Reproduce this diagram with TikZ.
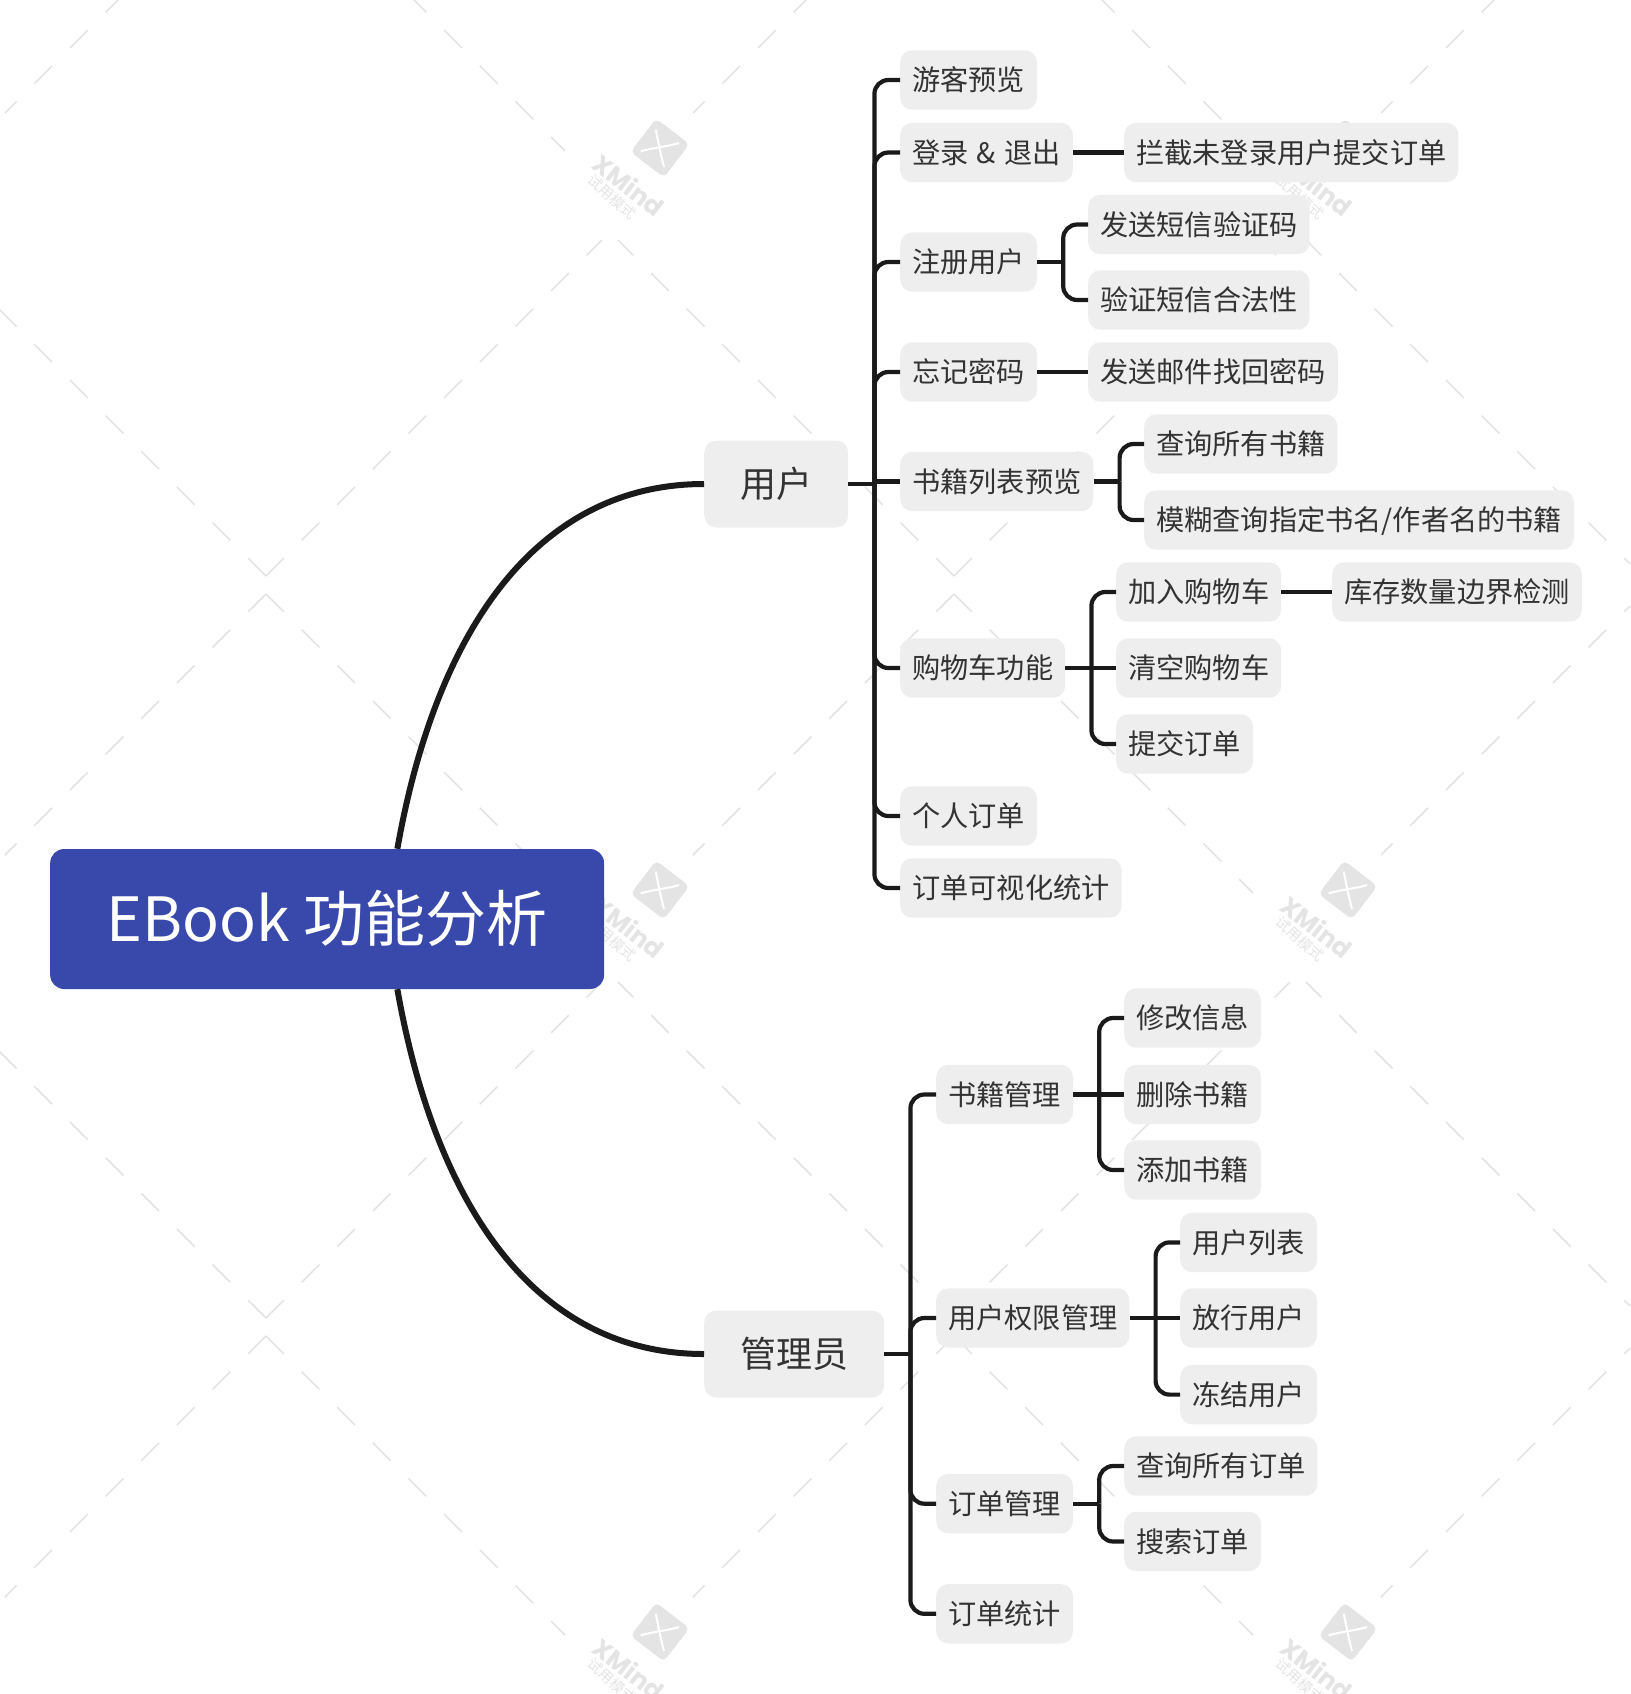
\documentclass[tikz,border=0pt]{standalone}
\usepackage{fontspec}
\setmainfont{Noto Sans CJK SC}
\newfontfamily\wmfont{Poppins}
\definecolor{linkcol}{HTML}{1A1A1A}
\definecolor{boxcol}{HTML}{EEEEEE}
\definecolor{rootcol}{HTML}{3949AB}
\definecolor{wmcol}{HTML}{E4E4E4}
\definecolor{textcol}{HTML}{333333}
\tikzset{
  topic/.style={anchor=west,fill=boxcol,text=textcol,rounded corners=12pt,inner xsep=12pt,inner ysep=15.7pt,
    font=\fontsize{28.2pt}{28.2pt}\selectfont,text height=24.6pt,text depth=3.4pt},
  maintopic/.style={topic,inner xsep=36pt,inner ysep=26pt,
    font=\fontsize{36pt}{36pt}\selectfont,text height=30.8pt,text depth=4.2pt},
  central/.style={anchor=west,fill=rootcol,text=white,rounded corners=14pt,inner xsep=56.3pt,inner ysep=40pt,
    font=\fontsize{61pt}{61pt}\selectfont,text height=52.8pt,text depth=7.2pt},
  link/.style={draw=linkcol,line width=4.2pt,rounded corners=14pt},
  mainlink/.style={draw=linkcol,line width=6pt},
  wmdash/.style={draw=wmcol,line width=1.5pt,dash pattern=on 25.2pt off 25.2pt}
}
\begin{document}
\begin{tikzpicture}[x=1pt,y=-1pt]
  \useasboundingbox (0,0) rectangle (1630,1694);
  % watermark
  \begin{scope}
    \clip (0,0) rectangle (1630,1694);
    \foreach \i in {0,1,2}
      \foreach \j in {-1,0,1,2} {
        \begin{scope}[shift={(688*\i,742*\j)}]
          \draw[wmdash] (266,576) -- ++(-336,-336);
          \draw[wmdash] (266,576) -- ++(336,-336);
          \draw[wmdash] (266,594) -- ++(-261,261);
          \draw[wmdash] (266,594) -- ++(299,299);
          \fill[wmcol,rotate around={-37.6:(660,148)},rounded corners=5pt]
            (639,127) rectangle (681,169);
          \draw[white,line width=2pt] (640.7,151.3) .. controls (656,147) and (666,147) .. (679,143);
          \draw[white,line width=2pt] (655.7,129.7) .. controls (659,145) and (660,152) .. (664,167);
          \node[rotate=-38,text=wmcol,font=\wmfont\bfseries\fontsize{25pt}{25pt}\selectfont] (wmname\i\j) at (629,185) {XMind};
          \node[rotate=-42,text=wmcol,font=\fontsize{14.5pt}{14.5pt}\selectfont] (wmtrial\i\j) at (612,197) {试用模式};
        \end{scope}
      }
  \end{scope}
  % topics
  \draw
    (50,919) node[central] (root){EBook 功能分析}
    (704,484) node[maintopic] (user){用户}
    (704,1354) node[maintopic] (admin){管理员}
    (900,80) node[topic] (guest){游客预览}
    (900,152.5) node[topic] (login){登录\kern2pt{} \& \kern2pt{}退出}
    (900,262) node[topic] (signup){注册用户}
    (900,372) node[topic] (forgot){忘记密码}
    (900,481.5) node[topic] (booklist){书籍列表预览}
    (900,668) node[topic] (cart){购物车功能}
    (900,816) node[topic] (myorder){个人订单}
    (900,888) node[topic] (orderstat){订单可视化统计}
    (1124,152.5) node[topic] (intercept){拦截未登录用户提交订单}
    (1088,224.5) node[topic] (sendsms){发送短信验证码}
    (1088,300) node[topic] (checksms){验证短信合法性}
    (1088,372) node[topic] (sendmail){发送邮件找回密码}
    (1144,444) node[topic] (queryall){查询所有书籍}
    (1144,520) node[topic] (fuzzy){模糊查询指定书名/作者名的书籍}
    (1116,592) node[topic] (addcart){加入购物车}
    (1332,592) node[topic] (stock){库存数量边界检测}
    (1116,668) node[topic] (clearcart){清空购物车}
    (1116,744) node[topic] (submit){提交订单}
    (936,1094.5) node[topic] (bookmgr){书籍管理}
    (936,1318) node[topic] (rights){用户权限管理}
    (936,1503.7) node[topic] (ordermgr){订单管理}
    (936,1613.8) node[topic] (adminstat){订单统计}
    (1124,1018) node[topic] (editinfo){修改信息}
    (1124,1094.5) node[topic] (delbook){删除书籍}
    (1124,1170) node[topic] (addbook){添加书籍}
    (1180,1242.4) node[topic] (userlist){用户列表}
    (1180,1318) node[topic] (release){放行用户}
    (1180,1394.6) node[topic] (freeze){冻结用户}
    (1124,1466) node[topic] (allorders){查询所有订单}
    (1124,1541.5) node[topic] (searchorder){搜索订单};
  % trunks
  \coordinate (usertrunk) at ([xshift=26pt]user.east);
  \coordinate (admintrunk) at ([xshift=26pt]admin.east);
  \coordinate (signuptrunk) at ([xshift=26pt]signup.east);
  \coordinate (booklisttrunk) at ([xshift=26pt]booklist.east);
  \coordinate (carttrunk) at ([xshift=26pt]cart.east);
  \coordinate (bookmgrtrunk) at ([xshift=26pt]bookmgr.east);
  \coordinate (rightstrunk) at ([xshift=26pt]rights.east);
  \coordinate (ordermgrtrunk) at ([xshift=26pt]ordermgr.east);
  \begin{scope}[mainlink]
    \draw (root.45) .. controls (437,625) and (540,484) .. (user.west);
    \draw (root.-45) .. controls (437,1213) and (540,1354) .. (admin.west);
  \end{scope}
  \begin{scope}[link]
    \draw (user.east) -- (usertrunk);
    \draw (usertrunk) |- (guest.west);
    \draw (usertrunk) |- (login.west);
    \draw (usertrunk) |- (signup.west);
    \draw (usertrunk) |- (forgot.west);
    \draw (usertrunk |- booklist.west) -- (booklist.west);
    \draw (usertrunk) |- (cart.west);
    \draw (usertrunk) |- (myorder.west);
    \draw (usertrunk) |- (orderstat.west);
    \draw (login.east) -- (intercept.west);
    \draw (signup.east) -- (signuptrunk);
    \draw (signuptrunk) |- (sendsms.west);
    \draw (signuptrunk) |- (checksms.west);
    \draw (forgot.east) -- (sendmail.west);
    \draw (booklist.east) -- (booklisttrunk);
    \draw (booklisttrunk) |- (queryall.west);
    \draw (booklisttrunk) |- (fuzzy.west);
    \draw (cart.east) -- (clearcart.west);
    \draw (carttrunk) |- (addcart.west);
    \draw (carttrunk) |- (submit.west);
    \draw (addcart.east) -- (stock.west);
    \draw (admin.east) -- (admintrunk);
    \draw (admintrunk) |- (bookmgr.west);
    \draw (admintrunk) |- (rights.west);
    \draw (admintrunk) |- (ordermgr.west);
    \draw (admintrunk) |- (adminstat.west);
    \draw (bookmgr.east) -- (delbook.west);
    \draw (bookmgrtrunk) |- (editinfo.west);
    \draw (bookmgrtrunk) |- (addbook.west);
    \draw (rights.east) -- (release.west);
    \draw (rightstrunk) |- (userlist.west);
    \draw (rightstrunk) |- (freeze.west);
    \draw (ordermgr.east) -- (ordermgrtrunk);
    \draw (ordermgrtrunk) |- (allorders.west);
    \draw (ordermgrtrunk) |- (searchorder.west);
  \end{scope}
\end{tikzpicture}
\end{document}
